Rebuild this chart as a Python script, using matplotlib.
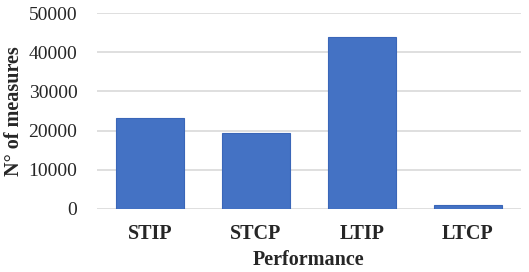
import matplotlib
matplotlib.use("Agg")
import matplotlib.pyplot as plt

categories = ["STIP", "STCP", "LTIP", "LTCP"]
values = [23100, 19500, 44000, 900]
yticks = [0, 10000, 20000, 30000, 40000, 50000]

plt.rcParams['font.family'] = ['Liberation Serif', 'DejaVu Serif']

fig = plt.figure(figsize=(5.29, 2.72), dpi=100)
ax = fig.add_axes([0.183, 0.232, 0.802, 0.72])
x = range(len(categories))
ax.bar(x, values, width=0.64, color="#4472C4", edgecolor="#3A66B8", linewidth=0.8, zorder=3)
ax.set_xlim(-0.5, 3.5)
ax.set_ylim(0, 50000)
ax.set_yticks(yticks)
ax.set_yticklabels([str(v) for v in yticks], fontsize=14, color="#262626")
ax.set_xticks(list(x))
ax.set_xticklabels(categories, fontsize=14.5, fontweight="bold", color="#262626")
ax.grid(axis="y", color="#d9d9d9", linewidth=1.2, zorder=0)
for s in ax.spines.values():
    s.set_visible(False)
ax.tick_params(axis="both", length=0)
ax.tick_params(axis="y", pad=14)
ax.tick_params(axis="x", pad=11)
ax.set_xlabel("Performance", fontsize=14.5, fontweight="bold", color="#262626", labelpad=4.5)
ax.set_ylabel("N° of measures", fontsize=14.5, fontweight="bold", color="#262626", labelpad=3)
fig.savefig("out.png", dpi=100)
